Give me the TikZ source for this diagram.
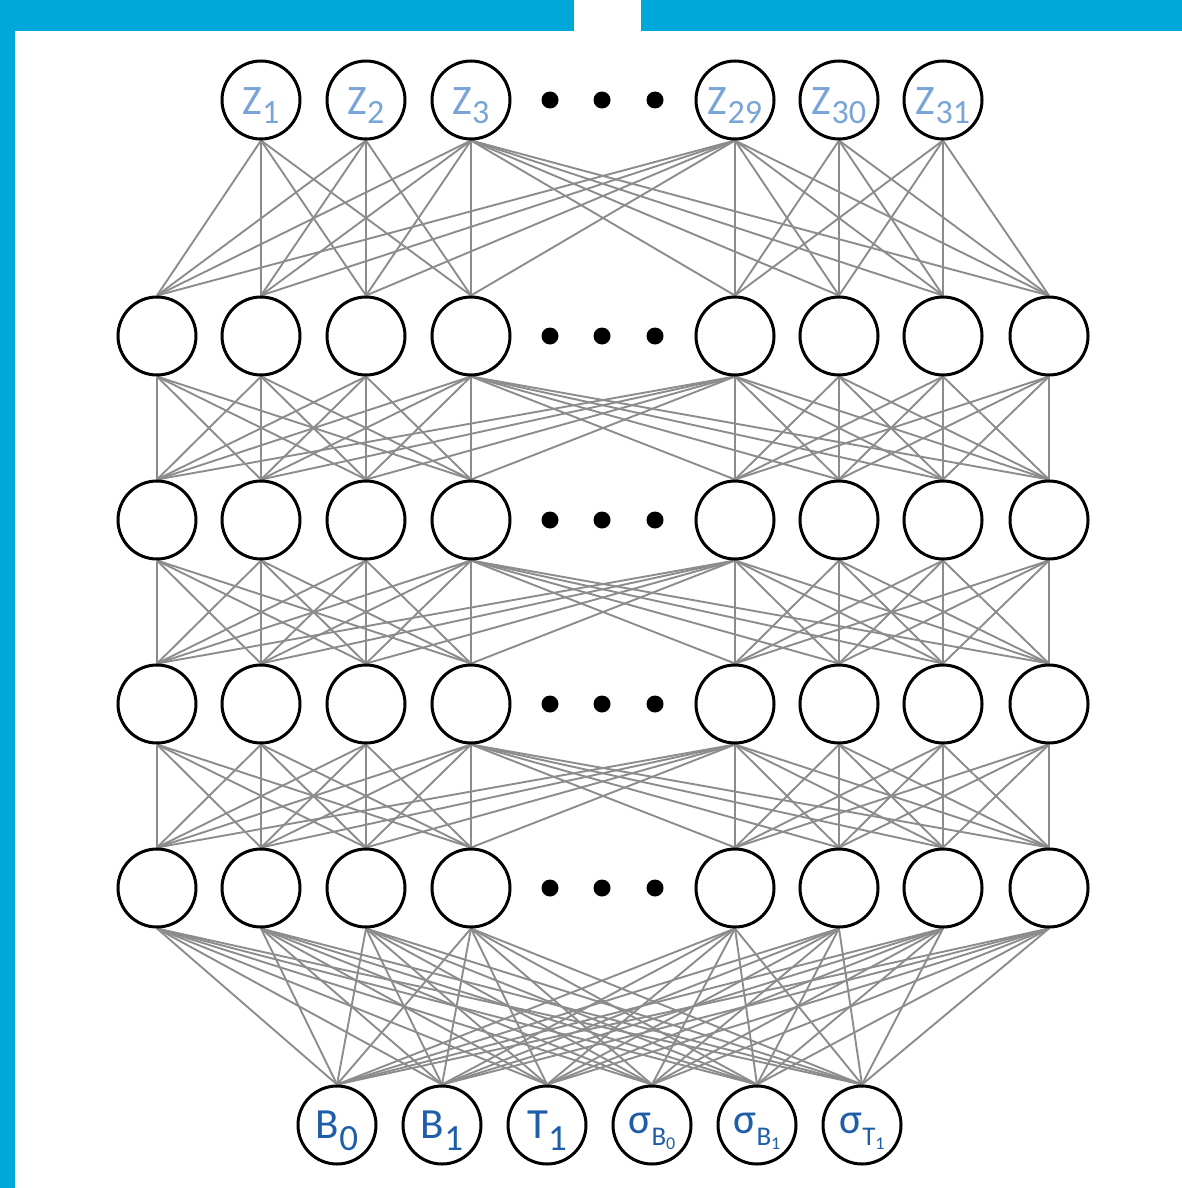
\documentclass[tikz,border=0pt]{standalone}
\usepackage{fontspec}
\setmainfont{Carlito}
\definecolor{frameblue}{RGB}{0,168,218}
\definecolor{zblue}{RGB}{122,164,214}
\definecolor{inblue}{RGB}{30,94,168}
\definecolor{edgegray}{RGB}{140,140,140}
\pgfdeclarelayer{background}
\pgfsetlayers{background,main}
\begin{document}
\begin{tikzpicture}[x=1pt,y=-1pt,
  neuron/.style={circle,draw=black,line width=3pt,fill=white,minimum size=78pt,inner sep=0pt},
  edge/.style={draw=edgegray,line width=1.9pt},
  dotnode/.style={circle,fill=black,minimum size=17pt,inner sep=0pt},
  zlabel/.style={text=zblue,anchor=base,inner sep=0pt,font=\fontsize{42}{42}\selectfont},
  inlabel/.style={text=inblue,anchor=base,inner sep=0pt,font=\fontsize{43}{43}\selectfont}]
\useasboundingbox (0,0) rectangle (1182,1188);
\fill[frameblue] (0,0) rectangle (15,1188);
\fill[frameblue] (0,0) rectangle (574,31);
\fill[frameblue] (641,0) rectangle (1182,31);
% output neurons
\foreach \n/\x in {1/261,2/366,3/471,29/735,30/839,31/943}
  \node[neuron] (z\n) at (\x,100) {};
% hidden neurons
\foreach \r/\y in {1/336,2/520,3/704,4/888}
  \foreach \i/\x in {1/157,2/261,3/366,4/471,5/735,6/839,7/943,8/1049}
    \node[neuron] (h\r-\i) at (\x,\y) {};
% input neurons
\foreach \i/\x in {1/337,2/442,3/547,4/652,5/757,6/862}
  \node[neuron] (in\i) at (\x,1125) {};
% ellipsis dots
\foreach \y [count=\k] in {100,336,520,704,888}
  \foreach \x [count=\m] in {550,602,655}
    \node[dotnode] (d\k-\m) at (\x,\y) {};
% labels
\foreach \n/\x in {1/261,2/366,3/471,29/735,30/839,31/943}
  \node[zlabel] (zt\n) at (\x,115) {Z\lower9pt\hbox{\fontsize{34}{34}\selectfont\n}};
\node[inlabel] (int1) at (337,1138) {B\lower12pt\hbox{\fontsize{37}{37}\selectfont 0}};
\node[inlabel] (int2) at (442,1138) {B\lower12pt\hbox{\fontsize{37}{37}\selectfont 1}};
\node[inlabel] (int3) at (547,1138) {T\lower12pt\hbox{\fontsize{37}{37}\selectfont 1}};
\node[inlabel] (int4) at (652,1133) {σ\lower12pt\hbox{\fontsize{27}{27}\selectfont B\lower4pt\hbox{\fontsize{18}{18}\selectfont 0}}};
\node[inlabel] (int5) at (757,1133) {σ\lower12pt\hbox{\fontsize{27}{27}\selectfont B\lower4pt\hbox{\fontsize{18}{18}\selectfont 1}}};
\node[inlabel] (int6) at (862,1133) {σ\lower12pt\hbox{\fontsize{27}{27}\selectfont T\lower4pt\hbox{\fontsize{18}{18}\selectfont 1}}};
% connections
\begin{pgfonlayer}{background}
  % outputs to first hidden layer
  \foreach \u in {1,2,3}
    \foreach \v in {1,2,3,4}
      \draw[edge] (z\u.south) -- (h1-\v.north);
  \foreach \u in {29,30,31}
    \foreach \v in {5,6,7,8}
      \draw[edge] (z\u.south) -- (h1-\v.north);
  \foreach \v in {5,6,7,8}
    \draw[edge] (z3.south) -- (h1-\v.north);
  \foreach \v in {1,2,3,4}
    \draw[edge] (z29.south) -- (h1-\v.north);
  % hidden to hidden
  \foreach \r/\s in {1/2,2/3,3/4} {
    \foreach \u in {1,2,3,4}
      \foreach \v in {1,2,3,4}
        \draw[edge] (h\r-\u.south) -- (h\s-\v.north);
    \foreach \u in {5,6,7,8}
      \foreach \v in {5,6,7,8}
        \draw[edge] (h\r-\u.south) -- (h\s-\v.north);
    \foreach \v in {5,6,7,8}
      \draw[edge] (h\r-4.south) -- (h\s-\v.north);
    \foreach \v in {1,2,3,4}
      \draw[edge] (h\r-5.south) -- (h\s-\v.north);
  }
  % last hidden layer to inputs
  \foreach \u in {1,...,8}
    \foreach \v in {1,...,6}
      \draw[edge] (h4-\u.south) -- (in\v.north);
\end{pgfonlayer}
\end{tikzpicture}
\end{document}
